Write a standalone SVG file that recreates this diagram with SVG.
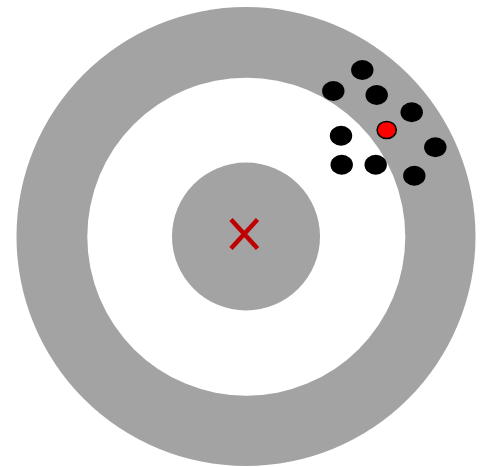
<svg xmlns="http://www.w3.org/2000/svg" width="484" height="467" viewBox="0 0 484 467">
<style>
.ring{fill:#a3a3a3}
.dot{fill:#000}
.hit{fill:#ff0000;stroke:#000;stroke-width:1.5}
.x{stroke:#c00000;stroke-width:4.5;fill:none}
</style>
<rect width="484" height="467" fill="#fff"/>
<g id="target">
<circle class="ring" cx="246" cy="236.5" r="229.5"/>
<circle fill="#fff" cx="246.3" cy="236.7" r="159"/>
<circle class="ring" cx="246" cy="236.5" r="74"/>
</g>
<g id="center-mark">
<path class="x" d="M231 219.5 L257.5 248.5 M257.5 219.5 L231 248.5"/>
</g>
<g id="shots">
<ellipse class="dot" cx="362.3" cy="70" rx="11.2" ry="10"/>
<ellipse class="dot" cx="333.3" cy="91" rx="11.2" ry="10"/>
<ellipse class="dot" cx="376.7" cy="95" rx="11.2" ry="10"/>
<ellipse class="dot" cx="411.7" cy="112.3" rx="11.2" ry="10"/>
<ellipse class="dot" cx="341" cy="135.7" rx="11.2" ry="10"/>
<ellipse class="dot" cx="435.3" cy="147.3" rx="11.2" ry="10"/>
<ellipse class="dot" cx="341.7" cy="164.7" rx="11.2" ry="10"/>
<ellipse class="dot" cx="375.7" cy="164.7" rx="11.2" ry="10"/>
<ellipse class="dot" cx="414.3" cy="175.7" rx="11.2" ry="10"/>
<ellipse class="hit" cx="386.7" cy="130" rx="9.6" ry="8.6"/>
</g>
</svg>
